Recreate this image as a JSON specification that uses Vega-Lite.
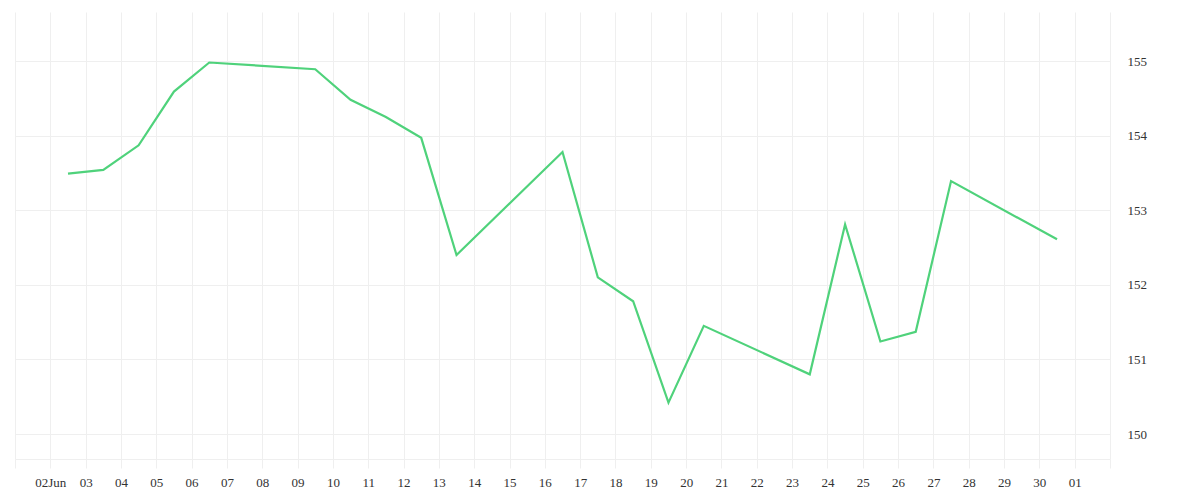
{
  "$schema": "https://vega.github.io/schema/vega-lite/v6.json",
  "autosize": "none",
  "width": 1095,
  "height": 447,
  "padding": {"left": 15, "top": 12, "right": 90, "bottom": 41},
  "background": "white",
  "config": {
    "view": {"stroke": null},
    "axis": {"labelFont": "Liberation Serif", "labelFontSize": 13, "labelColor": "#333333", "gridColor": "#efefef", "gridWidth": 1}
  },
  "data": {
    "values": [
      {"date": "2025-06-02T12:00:00Z", "value": 153.49},
      {"date": "2025-06-03T12:00:00Z", "value": 153.54},
      {"date": "2025-06-04T12:00:00Z", "value": 153.87},
      {"date": "2025-06-05T12:00:00Z", "value": 154.59},
      {"date": "2025-06-06T12:00:00Z", "value": 154.98},
      {"date": "2025-06-09T12:00:00Z", "value": 154.89},
      {"date": "2025-06-10T12:00:00Z", "value": 154.48},
      {"date": "2025-06-11T12:00:00Z", "value": 154.25},
      {"date": "2025-06-12T12:00:00Z", "value": 153.97},
      {"date": "2025-06-13T12:00:00Z", "value": 152.40},
      {"date": "2025-06-16T12:00:00Z", "value": 153.78},
      {"date": "2025-06-17T12:00:00Z", "value": 152.10},
      {"date": "2025-06-18T12:00:00Z", "value": 151.78},
      {"date": "2025-06-19T12:00:00Z", "value": 150.42},
      {"date": "2025-06-20T12:00:00Z", "value": 151.45},
      {"date": "2025-06-23T12:00:00Z", "value": 150.80},
      {"date": "2025-06-24T12:00:00Z", "value": 152.81},
      {"date": "2025-06-25T12:00:00Z", "value": 151.24},
      {"date": "2025-06-26T12:00:00Z", "value": 151.37},
      {"date": "2025-06-27T12:00:00Z", "value": 153.39},
      {"date": "2025-06-30T12:00:00Z", "value": 152.61}
    ]
  },
  "mark": {"type": "line", "color": "#4fd27b", "strokeWidth": 2.2, "strokeJoin": "miter"},
  "encoding": {
    "x": {
      "field": "date",
      "type": "temporal",
      "title": null,
      "scale": {
        "type": "utc",
        "domain": [
          {"year": 2025, "month": 6, "date": 1, "utc": true},
          {"year": 2025, "month": 7, "date": 2, "utc": true}
        ],
        "nice": false
      },
      "axis": {
        "tickCount": {"interval": "day", "step": 1},
        "grid": true,
        "domain": true,
        "domainColor": "#efefef",
        "ticks": true,
        "tickColor": "#efefef",
        "tickSize": 9,
        "labelPadding": 8,
        "labelFlush": false,
        "labelOverlap": false,
        "labelExpr": "(utcmonth(datum.value)==5 && utcdate(datum.value)==1) || (utcmonth(datum.value)==6 && utcdate(datum.value)==2) ? '' : (utcmonth(datum.value)==5 && utcdate(datum.value)==2 ? '02Jun' : utcFormat(datum.value, '%d'))"
      }
    },
    "y": {
      "field": "value",
      "type": "quantitative",
      "title": null,
      "scale": {"domain": [149.665, 155.657], "nice": false, "zero": false},
      "axis": {
        "orient": "right",
        "values": [150, 151, 152, 153, 154, 155],
        "grid": true,
        "domain": false,
        "ticks": false,
        "labelPadding": 17,
        "labelAlign": "left"
      }
    }
  }
}
